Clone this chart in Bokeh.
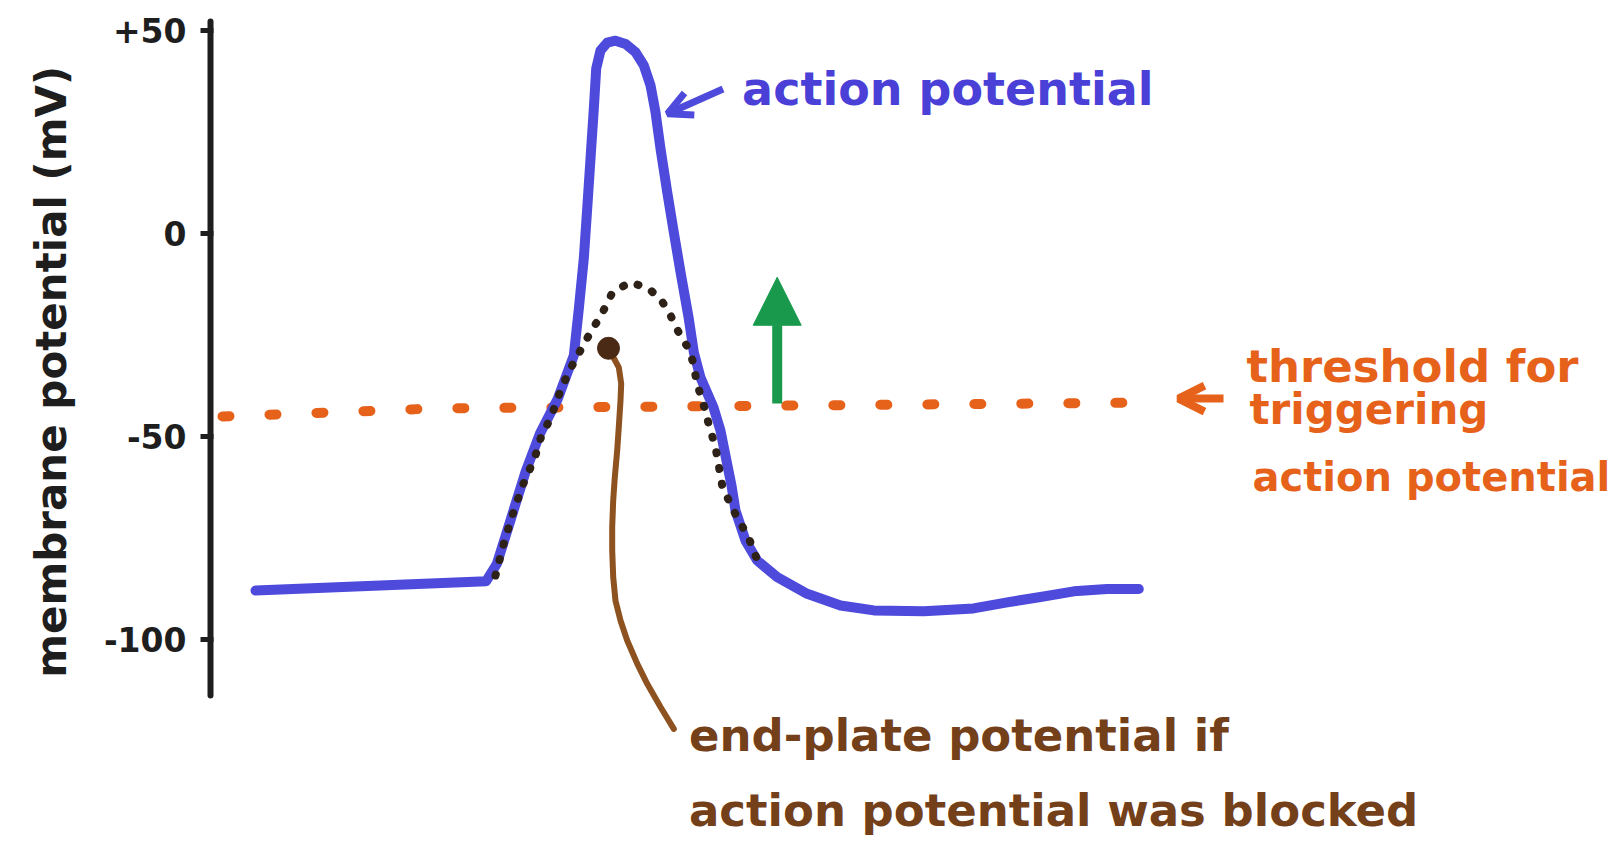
from bokeh.plotting import figure
from bokeh.models import Range1d, LinearAxis, FixedTicker, Label, Arrow, OpenHead, NormalHead
from bokeh.embed import file_html
from bokeh.resources import INLINE

# ---------------- data (time in arbitrary ms units, potential in mV) ----------------
ap_time = [0.45, 2.757, 2.864, 3.007, 3.15, 3.293, 3.47, 3.633, 3.683, 3.733, 3.767, 3.80,
           3.833, 3.857, 3.90, 3.967, 4.05, 4.15, 4.25, 4.333, 4.40, 4.45, 4.50, 4.567,
           4.633, 4.70, 4.783, 4.833, 4.90, 5.03, 5.10, 5.16, 5.21, 5.25, 5.35, 5.467,
           5.667, 5.967, 6.30, 6.633, 7.133, 7.63, 7.967, 8.30, 8.633, 8.967, 9.283]
ap_mv = [-88.0, -85.7, -81.4, -70.1, -58.8, -49.4, -40.9, -30.1, -18.6, -6.2, 6.1, 18.4,
         30.7, 40.6, 45.1, 47.0, 47.5, 46.7, 44.7, 41.4, 36.5, 29.9, 20.9, 10.2,
         0.3, -9.5, -21.0, -29.3, -35.5, -42.9, -48.6, -56.0, -62.1, -68.3, -75.7, -80.6,
         -84.7, -88.8, -91.7, -92.9, -93.1, -92.4, -90.9, -89.6, -88.2, -87.6, -87.6]

epp_time = [2.85, 2.94, 3.04, 3.13, 3.24, 3.31, 3.40, 3.49, 3.58, 3.70, 3.82, 3.90, 4.02,
            4.20, 4.38, 4.50, 4.60, 4.68, 4.78, 4.82, 4.87, 4.92, 4.98, 5.05, 5.12, 5.23,
            5.38, 5.48]
epp_mv = [-84.3, -75.8, -67.8, -61.6, -55.5, -49.8, -45.6, -39.4, -34.2, -28.8, -23.5, -20.5,
          -14.5, -12.0, -13.6, -16.1, -20.2, -24.3, -28.4, -31.3, -37.5, -41.2, -46.8, -52.7,
          -62.5, -68.3, -74.9, -81.3]

threshold_time = [0.12, 2.28, 5.39, 9.28]
threshold_mv = [-45.1, -43.1, -42.5, -41.7]

y_ticks = [50, 0, -50, -100]
y_tick_labels = ["+50", "0", "-50", "-100"]
y_title = "membrane potential (mV)"

# ---------------- styles ----------------
FONT = "DejaVu Sans"
BLUE = "#4D4ADC"
BLUE_TXT = "#4A3FD6"
ORANGE = "#E6621B"
BROWN = "#8E5220"
BROWN_TXT = "#74401A"
DOTS = "#2E2218"
GREEN = "#18994C"
INK = "#1E1E1E"

p = figure(width=1619, height=845,
           x_range=Range1d(0, 14.09), y_range=Range1d(-150.83, 57.40),
           output_backend="svg", toolbar_location=None,
           x_axis_location=None, y_axis_location=None,
           min_border_left=210, min_border_right=0, min_border_top=0, min_border_bottom=0)
p.outline_line_color = None
p.grid.grid_line_color = None
p.background_fill_color = "white"
p.border_fill_color = "white"

# leading no-break spaces lift the (frame-centred) title to where the drawing has it
yaxis = LinearAxis(ticker=FixedTicker(ticks=y_ticks), bounds=(-113.9, 52.3),
                   major_label_overrides={t: l for t, l in zip(y_ticks, y_tick_labels)},
                   axis_label="\u00a0" * 7 + y_title)
yaxis.axis_line_width = 6
yaxis.axis_line_color = INK
yaxis.axis_line_cap = "round"
yaxis.major_tick_line_width = 5
yaxis.major_tick_line_color = INK
yaxis.major_tick_out = 10
yaxis.major_tick_in = 3
yaxis.minor_tick_line_color = None
yaxis.major_label_text_font = FONT
yaxis.major_label_text_font_style = "bold"
yaxis.major_label_text_font_size = "33px"
yaxis.major_label_text_color = INK
yaxis.major_label_standoff = 14
yaxis.axis_label_text_font = FONT
yaxis.axis_label_text_font_style = "bold"
yaxis.axis_label_text_font_size = "42px"
yaxis.axis_label_text_color = INK
yaxis.axis_label_standoff = 25
p.add_layout(yaxis, "left")

# threshold
p.line(threshold_time, threshold_mv, line_color=ORANGE, line_width=10,
       line_dash="7 40", line_cap="round")

# action potential
p.line(ap_time, ap_mv, line_color=BLUE, line_width=10, line_cap="round", line_join="round")

# end-plate potential (dotted)
p.line(epp_time, epp_mv, line_color=DOTS, line_width=8, line_dash="1 15", line_cap="round")

# brown pointer from caption to the end-plate curve
p.line([4.633, 4.50, 4.367, 4.267, 4.167, 4.10, 4.05, 4.027, 4.017, 4.017, 4.027, 4.043,
        4.067, 4.083, 4.10, 4.107, 4.083, 3.99],
       [-122.1, -116.7, -111.0, -106.0, -100.3, -95.4, -90.5, -84.7, -78.1, -72.4, -65.8,
        -60.1, -53.5, -47.7, -41.2, -37.0, -33.0, -28.8],
       line_color=BROWN, line_width=6, line_cap="round", line_join="round")
p.scatter([3.98], [-28.3], size=22, color="#4A2A14")

# arrows
p.add_layout(Arrow(end=OpenHead(size=24, line_color=BLUE, line_width=7),
                   x_start=5.125, y_start=35.6, x_end=4.57, y_end=29.5,
                   line_color=BLUE, line_width=7))
p.add_layout(Arrow(end=NormalHead(size=48, fill_color=GREEN, line_color=GREEN),
                   x_start=5.667, y_start=-41.9, x_end=5.667, y_end=-10.8,
                   line_color=GREEN, line_width=10))
p.add_layout(Arrow(end=OpenHead(size=26, line_color=ORANGE, line_width=8),
                   x_start=10.13, y_start=-40.7, x_end=9.68, y_end=-40.7,
                   line_color=ORANGE, line_width=8))

def add_text(x, y, text, color, size):
    p.add_layout(Label(x=x, y=y, text=text, text_color=color, text_font=FONT,
                       text_font_style="bold", text_font_size=size,
                       text_align="left", text_baseline="alphabetic"))

add_text(5.316, 35.6, "action potential", BLUE_TXT, "46px")
add_text(10.36, -32.7, "threshold for", ORANGE, "45px")
add_text(10.39, -43.3, "triggering", ORANGE, "42px")
add_text(10.42, -60.0, "action potential", ORANGE, "40px")
add_text(4.785, -123.8, "end-plate potential if", BROWN_TXT, "45px")
add_text(4.785, -142.3, "action potential was blocked", BROWN_TXT, "45px")

open("out.html", "w").write(file_html(p, INLINE))
